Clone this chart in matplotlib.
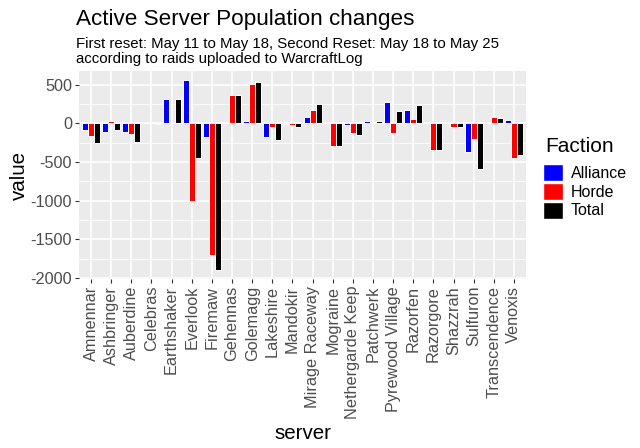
import numpy as np
import matplotlib
matplotlib.use("Agg")
import matplotlib.pyplot as plt
from matplotlib.patches import Patch

plt.rcParams["font.family"] = ["Liberation Sans", "DejaVu Sans"]

servers = ["Amnennar", "Ashbringer", "Auberdine", "Celebras", "Earthshaker", "Everlook",
           "Firemaw", "Gehennas", "Golemagg", "Lakeshire", "Mandokir", "Mirage Raceway",
           "Mograine", "Nethergarde Keep", "Patchwerk", "Pyrewood Village", "Razorfen",
           "Razorgore", "Shazzrah", "Sulfuron", "Transcendence", "Venoxis"]
alliance = [-85, -107, -107, 0, 320, 555, -171, 0, 30, -171, -12, 81,
            0, -17, 30, 278, 171, 0, 0, -367, 0, 38]
horde = [-158, 30, -137, 0, 0, -1003, -1708, 371, 512, -43, -26, 171,
         -299, -128, 10, -120, 56, -350, -51, -209, 81, -453]
total = [-256, -85, -248, -5, 320, -448, -1892, 371, 530, -213, -43, 252,
         -299, -154, 30, 158, 235, -350, -51, -589, 64, -414]
factions = ["Alliance", "Horde", "Total"]
colors = ["#0000FF", "#FF0000", "#000000"]

W, H = 640, 448
fig = plt.figure(figsize=(W / 100, H / 100), dpi=100)
# panel: x 79..526, y 71..279 (pixels)
ax = fig.add_axes([79 / W, 1 - 279 / H, (526 - 79) / W, (279 - 71) / H])
ax.set_facecolor("#EBEBEB")
for s in ax.spines.values():
    s.set_visible(False)

x = np.arange(len(servers))
w = 0.3
for i, (vals, c) in enumerate(zip([alliance, horde, total], colors)):
    ax.bar(x + (i - 1) * w, vals, width=w, color=c, edgecolor="white", linewidth=0.7, zorder=3)

ax.set_xlim(-0.6, len(servers) - 0.4)
ax.set_ylim(-2014, 677)
ax.set_yticks([-2000, -1500, -1000, -500, 0, 500])
ax.set_yticklabels(["-2000", "-1500", "-1000", "-500", "0", "500"])
ax.set_yticks(np.arange(-1750, 700, 500), minor=True)
ax.set_xticks(x)
ax.set_xticklabels(servers, rotation=90)
ax.grid(True, which="major", color="white", linewidth=1.1, zorder=0)
ax.grid(True, which="minor", axis="y", color="white", linewidth=0.55, zorder=0)
ax.tick_params(which="major", length=3, width=0.8, color="#333333", labelcolor="#4D4D4D",
               labelsize=11.7, pad=2)
ax.tick_params(which="minor", length=0)
ax.set_axisbelow(True)

fig.text((79 + 526) / 2 / W, 1 - 439 / H, "server", fontsize=14.8, ha="center", va="baseline")
fig.text(19 / W, 1 - 175 / H, "value", fontsize=14.8, rotation=90, ha="center", va="center")

fig.text(76 / W, 1 - 25 / H, "Active Server Population changes", fontsize=16.2,
         ha="left", va="baseline")
fig.text(76 / W, 1 - 48 / H, "First reset: May 11 to May 18, Second Reset: May 18 to May 25",
         fontsize=10.8, ha="left", va="baseline")
fig.text(76 / W, 1 - 63 / H, "according to raids uploaded to WarcraftLog",
         fontsize=10.8, ha="left", va="baseline")

# legend: title as separate text, keys below it
fig.text(545 / W, 1 - 152 / H, "Faction", fontsize=15, ha="left", va="baseline")
handles = [Patch(facecolor=c, edgecolor="white", label=f) for f, c in zip(factions, colors)]
leg = fig.legend(handles=handles, loc="upper left",
                 bbox_to_anchor=(543 / W, 1 - 164 / H), frameon=False, fontsize=11.5,
                 handlelength=1.25, handleheight=1.25,
                 handletextpad=0.5, labelspacing=0.12, borderaxespad=0, borderpad=0)

fig.savefig("out.png", dpi=100)
